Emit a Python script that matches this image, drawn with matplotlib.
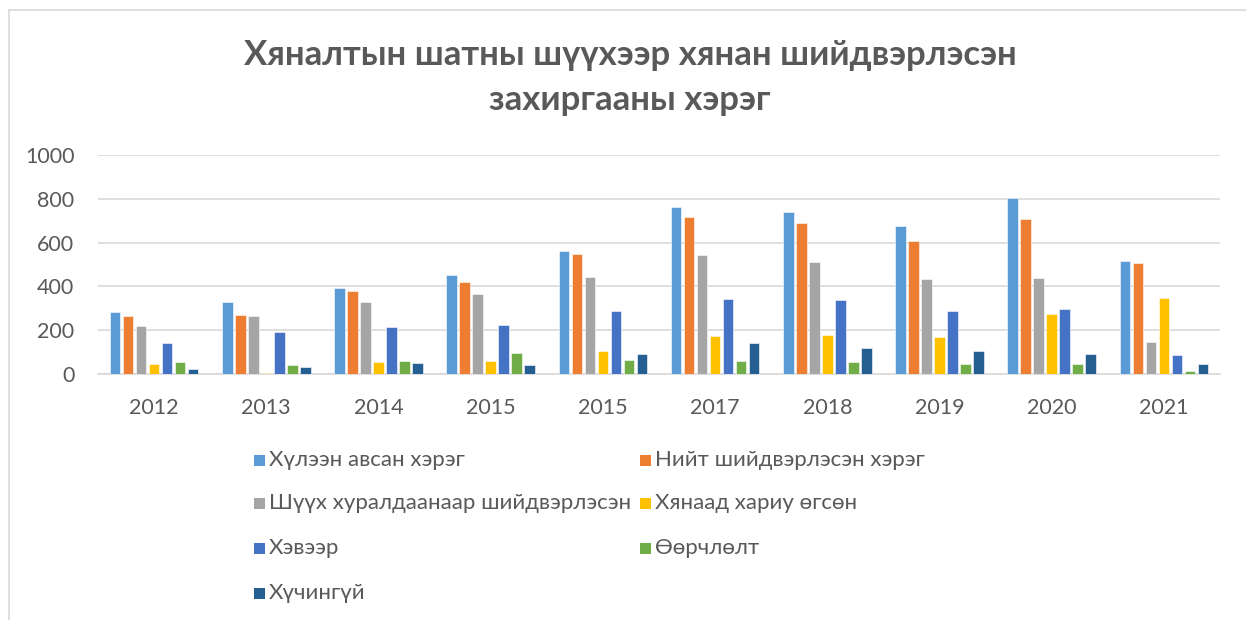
import matplotlib
matplotlib.use("Agg")
import matplotlib.pyplot as plt
import numpy as np
from matplotlib.patches import Rectangle

plt.rcParams['font.family'] = ['Lato', 'Noto Sans', 'DejaVu Sans']

categories = ["2012", "2013", "2014", "2015", "2015", "2017", "2018", "2019", "2020", "2021"]
series_names = ["Хүлээн авсан хэрэг", "Нийт шийдвэрлэсэн хэрэг",
                "Шүүх хуралдаанаар шийдвэрлэсэн", "Хянаад хариу өгсөн",
                "Хэвээр", "Өөрчлөлт", "Хүчингүй"]
hulen_avsan = [281, 329, 393, 452, 560, 762, 739, 674, 803, 514]
niit_shiid = [267, 270, 381, 420, 548, 716, 689, 607, 709, 508]
shuukh_khural = [220, 266, 328, 364, 445, 543, 511, 436, 437, 147]
khianaad = [47, 3, 55, 58, 105, 173, 178, 171, 272, 349]
khevee = [141, 193, 215, 225, 288, 343, 338, 288, 299, 86]
oorchlolt = [56, 39, 61, 96, 64, 61, 55, 44, 44, 15]
khuchingui = [24, 33, 52, 42, 91, 141, 117, 103, 93, 44]
series = [hulen_avsan, niit_shiid, shuukh_khural, khianaad, khevee, oorchlolt, khuchingui]
colors = ["#5B9BD5", "#ED7D31", "#A5A5A5", "#FFC000", "#4472C4", "#70AD47", "#255E91"]

W, H = 1246, 620
fig = plt.figure(figsize=(W / 100, H / 100), dpi=100)
fig.patch.set_facecolor("white")

# outer chart border
fig.patches.append(Rectangle((9 / W, -0.1), 1.2, 1 - 9.5 / H + 0.1, transform=fig.transFigure,
                             fill=False, edgecolor="#D9D9D9", linewidth=1.2))

ax = fig.add_axes([98 / W, 1 - 374 / H, (1220 - 98) / W, (374 - 155) / H])
x = np.arange(len(categories))
step = 0.116
width = 0.095
for i, (vals, c) in enumerate(zip(series, colors)):
    ax.bar(x + (i - 3) * step, vals, width=width, color=c, edgecolor="white", linewidth=0.4, zorder=3)

ax.set_xlim(-0.5, len(categories) - 0.5)
ax.set_ylim(0, 1000)
ax.set_yticks(np.arange(0, 1001, 200))
ax.set_xticks(x)
ax.set_xticklabels(categories)
ax.yaxis.grid(True, color="#D9D9D9", linewidth=1.2, zorder=0)
ax.set_axisbelow(True)
for s in ["top", "right", "left"]:
    ax.spines[s].set_visible(False)
ax.spines["bottom"].set_color("#D9D9D9")
ax.spines["bottom"].set_linewidth(1.2)
ax.tick_params(axis="both", length=0, labelsize=15.5, labelcolor="#595959")
ax.tick_params(axis="y", pad=17)
ax.tick_params(axis="x", pad=17.5)

fig.text(630 / W, 1 - 55 / H, "Хяналтын шатны шүүхээр хянан шийдвэрлэсэн",
         ha="center", va="center", fontsize=25, fontweight="bold", color="#595959")
fig.text(630 / W, 1 - 100 / H, "захиргааны хэрэг",
         ha="center", va="center", fontsize=25, fontweight="bold", color="#595959")

# legend, row-first in two columns
col_x = [254, 640]
row_y = [460, 503, 548, 593]
for k, (name, c) in enumerate(zip(series_names, colors)):
    r, cidx = divmod(k, 2)
    px, py = col_x[cidx], row_y[r]
    fig.patches.append(Rectangle((px / W, 1 - (py + 5.5) / H), 11 / W, 11 / H,
                                 transform=fig.transFigure, facecolor=c, edgecolor="none"))
    fig.text((px + 15) / W, 1 - py / H, name, ha="left", va="center",
             fontsize=16, color="#595959")

fig.savefig("out.png", dpi=100, facecolor="white")
